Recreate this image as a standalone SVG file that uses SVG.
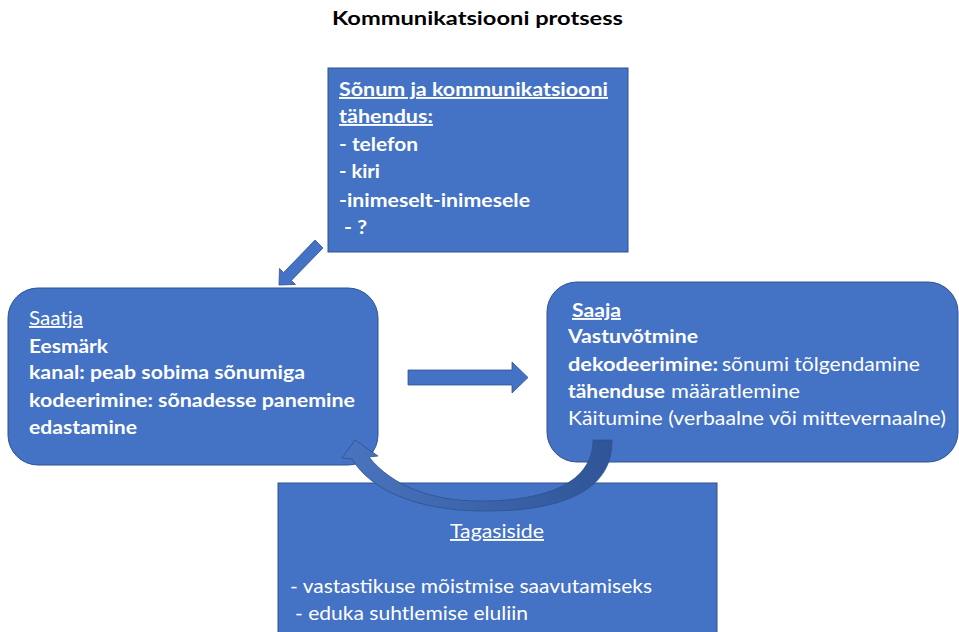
<svg xmlns="http://www.w3.org/2000/svg" width="959" height="632" viewBox="0 0 959 632">
<defs>
<style>
.box{fill:#4472C4;stroke:#2F528F;stroke-width:1}
.t{font-family:Lato,"Open Sans","Liberation Sans",sans-serif;font-size:19px;fill:#FFFFFF}
.b{font-weight:bold}
.u{text-decoration:underline}
.title{font-family:Lato,"Open Sans","Liberation Sans",sans-serif;font-size:19px;font-weight:bold;fill:#000000}
.arr{fill:#4472C4;stroke:#2F528F;stroke-width:0.8}
</style>
<linearGradient id="cg" x1="0" y1="0" x2="1" y2="0">
<stop offset="0" stop-color="#4A74BE"/>
<stop offset="1" stop-color="#2F5597"/>
</linearGradient>
</defs>
<rect width="959" height="632" fill="#FFFFFF"/>
<text class="title" x="332" y="25" textLength="291" lengthAdjust="spacingAndGlyphs">Kommunikatsiooni protsess</text>

<g id="sonum">
<rect class="box" x="328" y="68" width="300" height="184"/>
<text class="t b u" x="339" y="96" textLength="269" lengthAdjust="spacingAndGlyphs">Sõnum ja kommunikatsiooni</text>
<text class="t b u" x="339" y="123" textLength="94" lengthAdjust="spacingAndGlyphs">tähendus:</text>
<text class="t b" x="339" y="151" textLength="79" lengthAdjust="spacingAndGlyphs">- telefon</text>
<text class="t b" x="339" y="178" textLength="41" lengthAdjust="spacingAndGlyphs">- kiri</text>
<text class="t b" x="339" y="207" textLength="191" lengthAdjust="spacingAndGlyphs">-inimeselt-inimesele</text>
<text class="t b" x="344" y="234" textLength="23" lengthAdjust="spacingAndGlyphs">- ?</text>
</g>

<g id="saatja">
<rect class="box" x="8" y="288" width="370" height="177" rx="30" ry="30"/>
<text class="t u" x="29" y="325" textLength="54" lengthAdjust="spacingAndGlyphs">Saatja</text>
<text class="t b" x="29" y="353" textLength="79" lengthAdjust="spacingAndGlyphs">Eesmärk</text>
<text class="t b" x="29" y="379" textLength="276" lengthAdjust="spacingAndGlyphs">kanal: peab sobima sõnumiga</text>
<text class="t b" x="29" y="407" textLength="326" lengthAdjust="spacingAndGlyphs">kodeerimine: sõnadesse panemine</text>
<text class="t b" x="29" y="434" textLength="108" lengthAdjust="spacingAndGlyphs">edastamine</text>
</g>

<g id="saaja">
<rect class="box" x="547" y="282" width="411" height="180" rx="30" ry="30"/>
<text class="t b u" x="572" y="317" textLength="49" lengthAdjust="spacingAndGlyphs">Saaja</text>
<text class="t b" x="568" y="343" textLength="130" lengthAdjust="spacingAndGlyphs">Vastuvõtmine</text>
<text class="t b" x="568" y="371" textLength="150" lengthAdjust="spacingAndGlyphs">dekodeerimine:</text>
<text class="t" x="722" y="371" textLength="198" lengthAdjust="spacingAndGlyphs">sõnumi tõlgendamine</text>
<text class="t b" x="568" y="398" textLength="97" lengthAdjust="spacingAndGlyphs">tähenduse</text>
<text class="t" x="671" y="398" textLength="129" lengthAdjust="spacingAndGlyphs">määratlemine</text>
<text class="t" x="568" y="425" textLength="378" lengthAdjust="spacingAndGlyphs">Käitumine (verbaalne või mittevernaalne)</text>
</g>

<g id="tagasiside">
<rect class="box" x="278" y="483" width="439" height="160"/>
<text class="t u" x="450" y="538" textLength="94" lengthAdjust="spacingAndGlyphs">Tagasiside</text>
<text class="t" x="290" y="593" textLength="362" lengthAdjust="spacingAndGlyphs">- vastastikuse mõistmise saavutamiseks</text>
<text class="t" x="295" y="620" textLength="233" lengthAdjust="spacingAndGlyphs">- eduka suhtlemise eluliin</text>
</g>

<g id="connectors">
<polygon class="arr" points="315,240 323,248 291.4,280.4 295.5,284.5 279,285 279.5,268.5 283.6,272.6"/>
<polygon class="arr" points="408,370 512,370 512,362 528,377.5 512,393 512,385 408,385"/>
<path d="M593,440 L612,440 C613,492 560,512 480,511 C420,510 372,492 352,459 L342,458 L355,440 L378,456 L369,457 C392,486 432,501 480,501 C548,501 593,482 593,440 Z" fill="url(#cg)" stroke="#2F528F" stroke-width="0.8"/>
</g>
</svg>
